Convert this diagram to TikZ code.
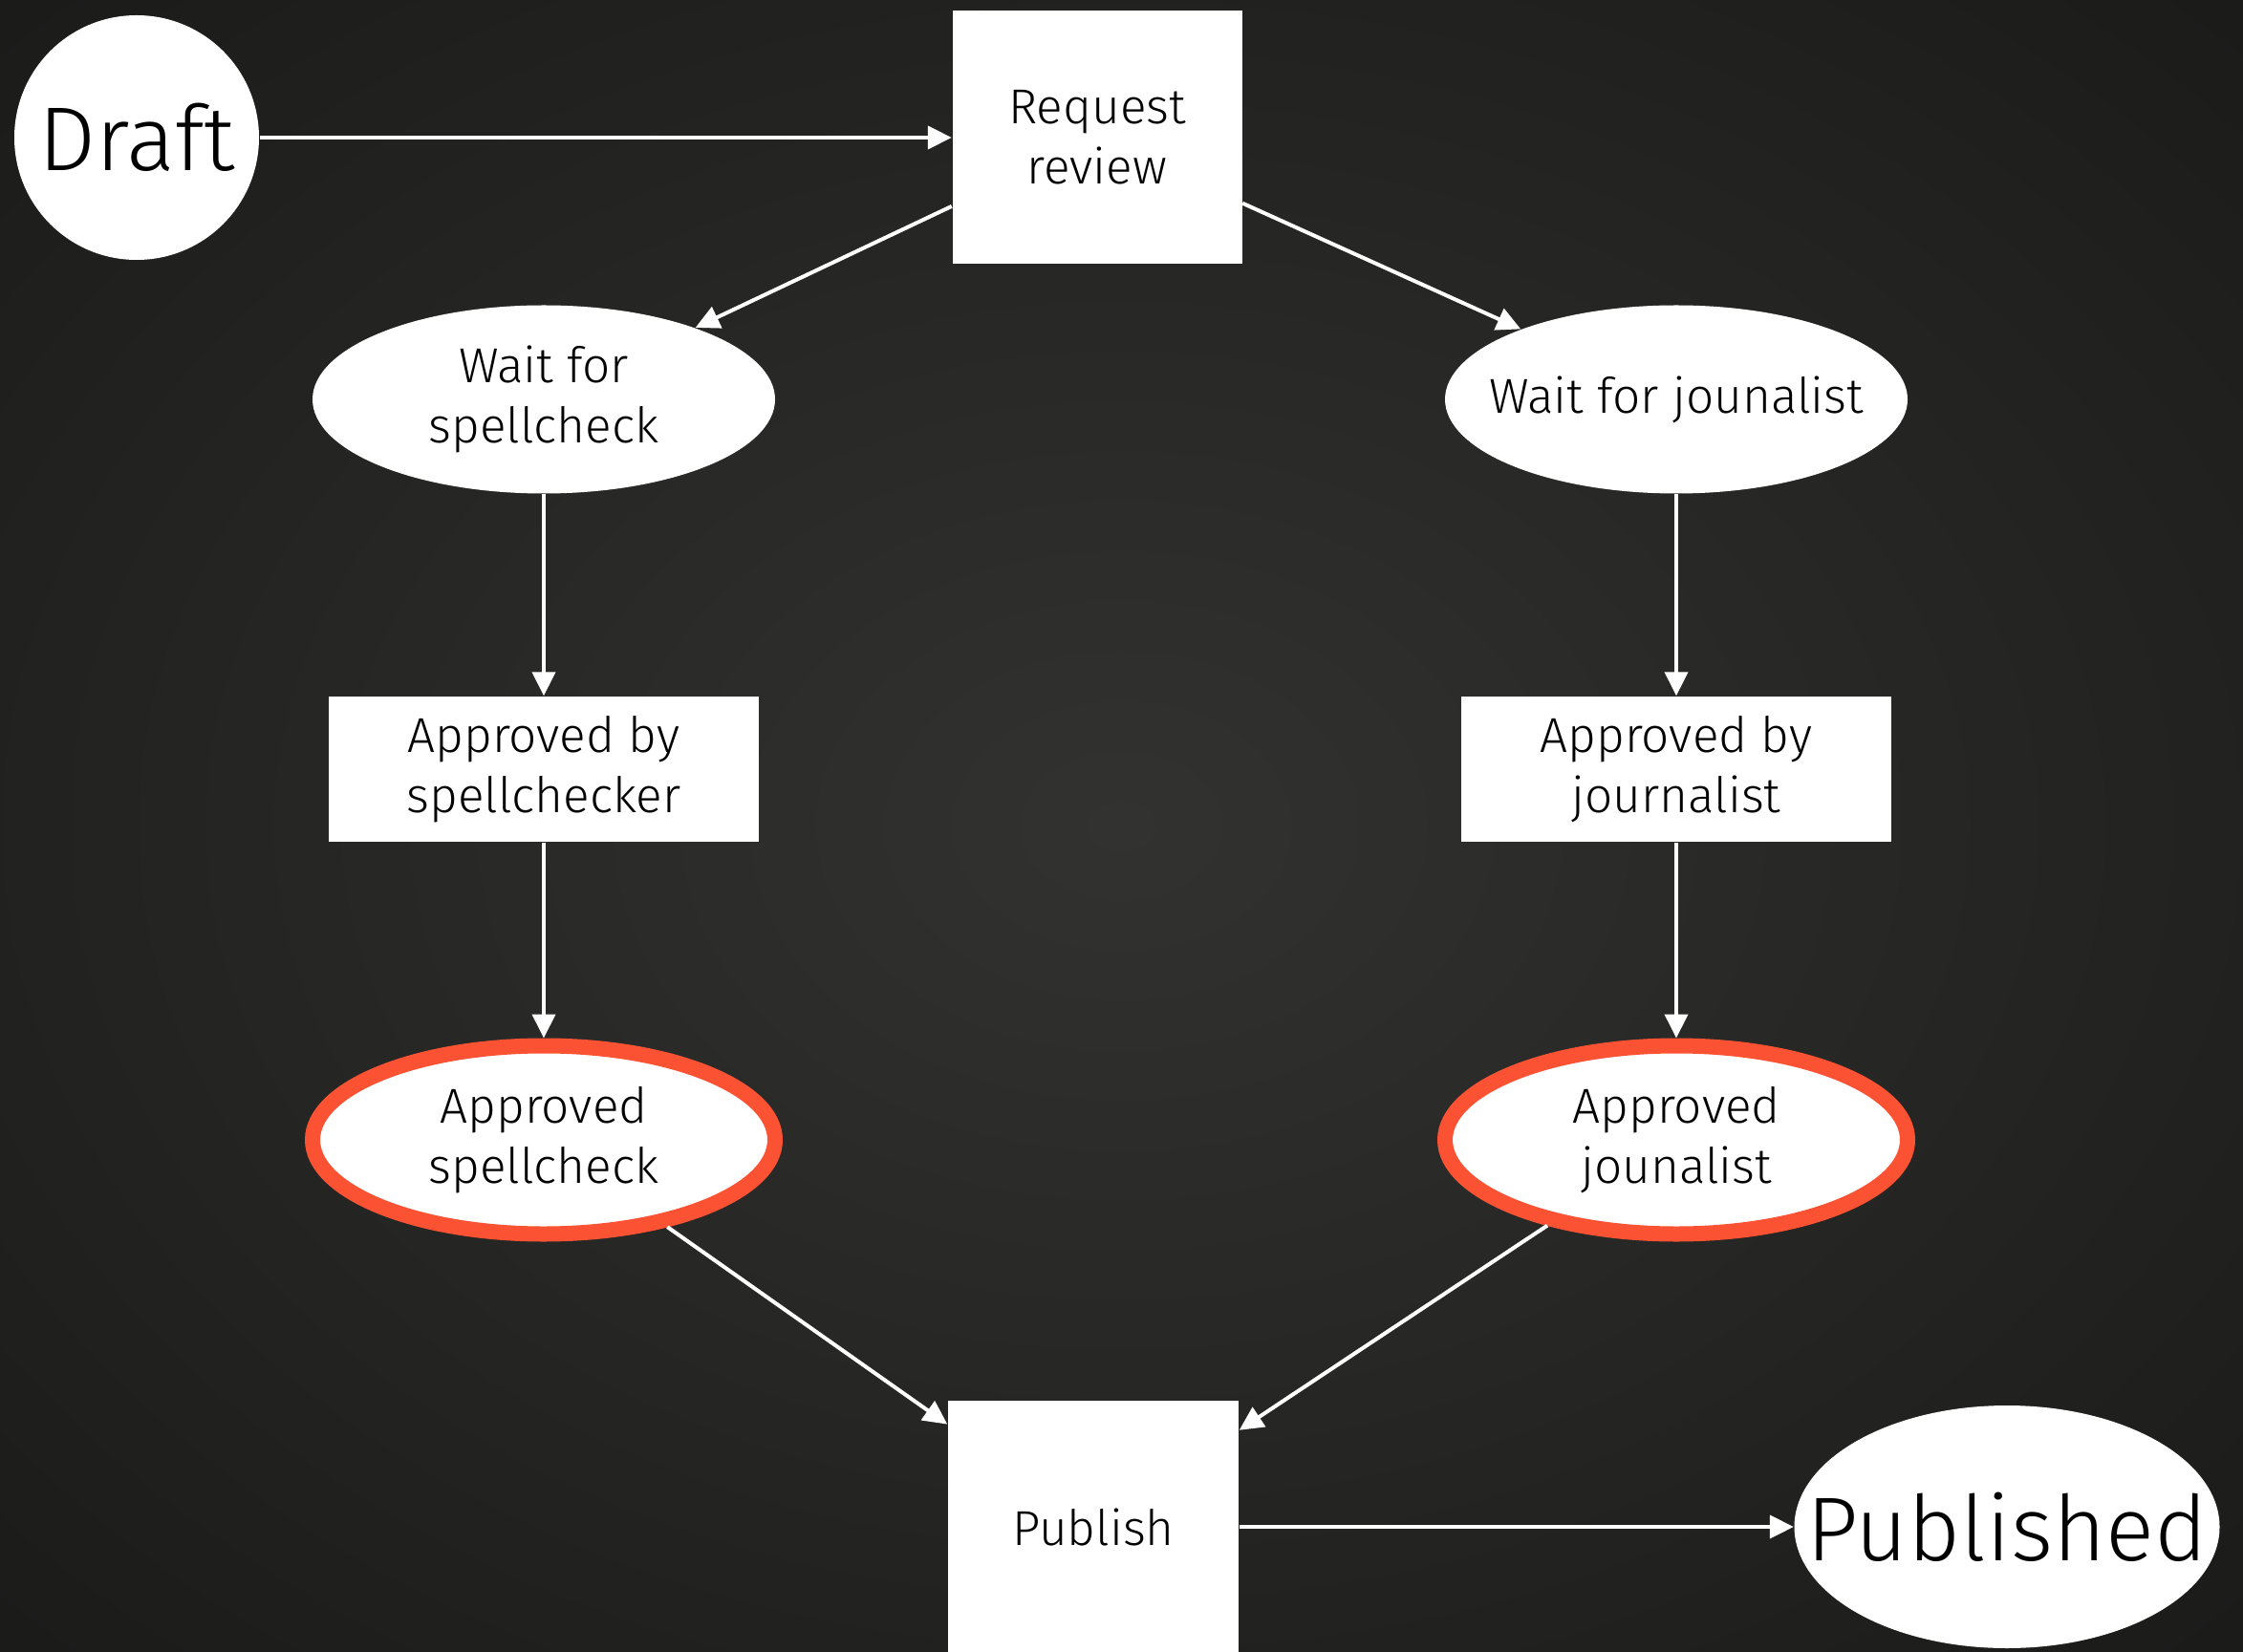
\documentclass[tikz,border=0pt]{standalone}
\usepackage{fontspec}
\setmainfont{Fira Sans Light}
\usetikzlibrary{shapes.geometric, arrows.meta, positioning}
\definecolor{cBgIn}{RGB}{50,51,48}
\definecolor{cBgOut}{RGB}{9,9,9}
\definecolor{cRed}{RGB}{252,82,52}
\pgfdeclareradialshading{bgglow}{\pgfpoint{0bp}{0bp}}{color(0bp)=(cBgIn); color(62bp)=(cBgOut)}
\tikzset{
	endpoint/.style ={ellipse, fill=white, inner sep=-1cm, font=\fontsize{27}{32}\selectfont},
	taskbox/.style  ={rectangle, fill=white, inner sep=0pt, align=center},
	waitstate/.style={ellipse, fill=white, inner sep=-1cm, minimum width=4.84cm, minimum height=1.97cm, align=center},
	okstate/.style  ={waitstate, draw=cRed, line width=0.16cm},
	flowarrow/.style={-{Triangle[length=0.25cm, width=0.24cm]}, white, line width=0.04cm},
}
\begin{document}
\begin{tikzpicture}[font=\fontsize{14.6}{18}\selectfont]
	\useasboundingbox (0,0) rectangle (23.47,17.28);
	\shade[shading=bgglow] (0,0) rectangle (23.47,17.28);
	% top row
	\node[endpoint, minimum width=2.56cm, minimum height=2.56cm] (draft) at (1.43,15.84) {Draft};
	\node[taskbox, minimum width=3.03cm, minimum height=2.65cm] (request) at (11.48,15.84) {Request\\review};
	% spellcheck branch
	\node[waitstate] (waitspell) at (5.69,13.10) {Wait for\\spellcheck};
	\node[taskbox, minimum width=4.50cm, minimum height=1.52cm] (byspell) at (5.69,9.23) {Approved by\\spellchecker};
	\node[okstate] (okspell) at (5.69,5.35) {Approved\\spellcheck};
	% journalist branch
	\node[waitstate] (waitjourn) at (17.54,13.10) {Wait for jounalist};
	\node[taskbox, minimum width=4.50cm, minimum height=1.52cm] (byjourn) at (17.54,9.23) {Approved by\\journalist};
	\node[okstate] (okjourn) at (17.54,5.35) {Approved\\jounalist};
	% bottom row
	\node[taskbox, minimum width=3.04cm, minimum height=2.64cm] (publish) at (11.44,1.30) {Publish};
	\node[endpoint, minimum width=4.45cm, minimum height=2.54cm] (published) at (21.00,1.30) {Published};

	\draw[flowarrow] (draft) -- (request);
	\draw[flowarrow] (request) -- (waitspell);
	\draw[flowarrow] (request) -- (waitjourn);
	\draw[flowarrow] (waitspell) -- (byspell);
	\draw[flowarrow] (byspell) -- (okspell);
	\draw[flowarrow] (waitjourn) -- (byjourn);
	\draw[flowarrow] (byjourn) -- (okjourn);
	\draw[flowarrow] (okspell) -- (publish);
	\draw[flowarrow] (okjourn) -- (publish);
	\draw[flowarrow] (publish) -- (published);
\end{tikzpicture}
\end{document}
